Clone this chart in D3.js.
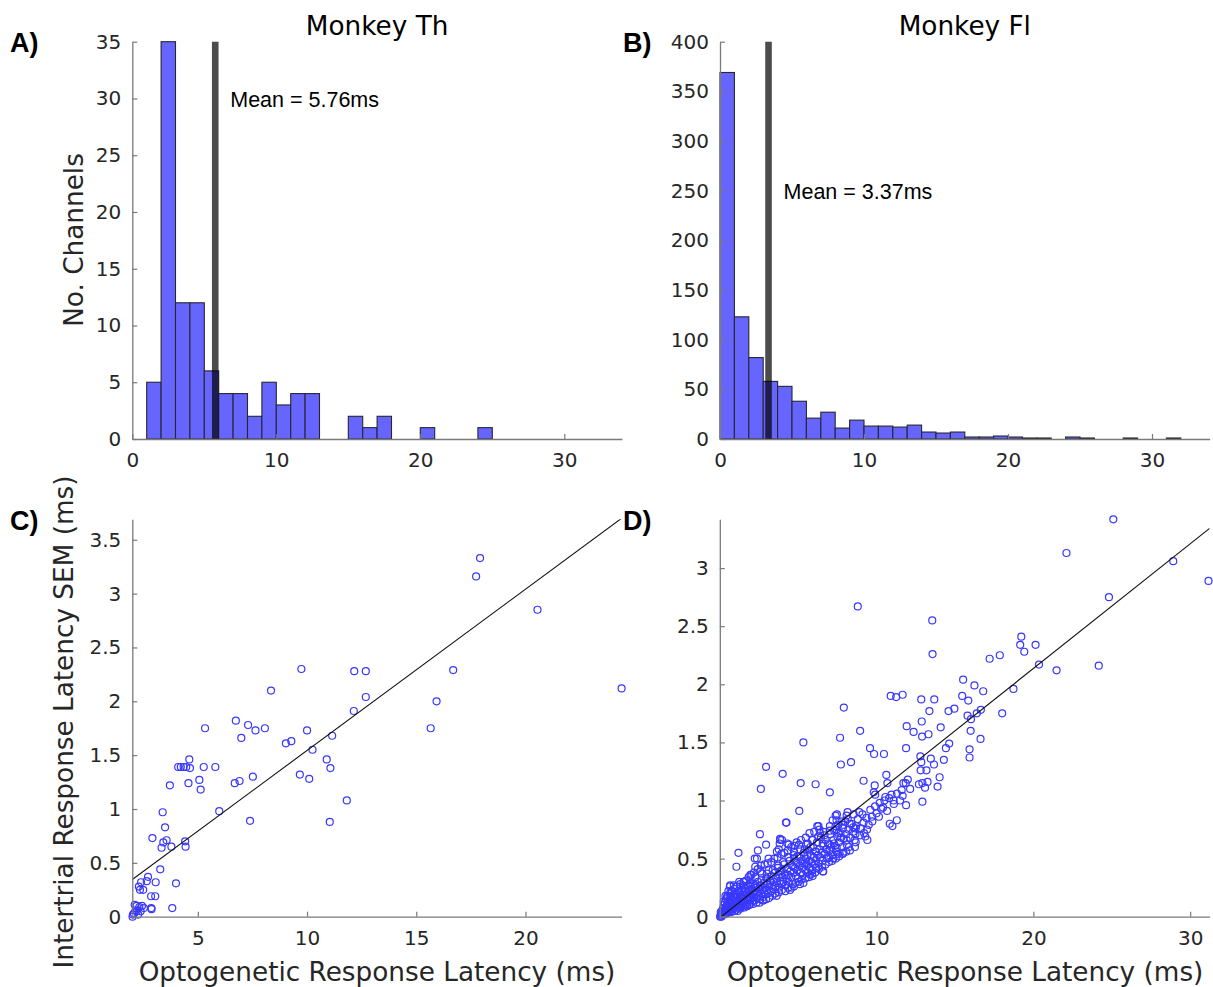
<!DOCTYPE html>
<html><head><meta charset="utf-8">
<script src="https://cdn.jsdelivr.net/npm/d3@7"></script>
<style>body{margin:0;background:#fff} svg{display:block}</style>
</head><body><svg id="c" width="1213" height="987"></svg>
<script>
// ---------- DATA ----------
const titleA = "Monkey Th";
const titleB = "Monkey Fl";
const meanA = 5.76;
const meanB = 3.37;
const binStartA = 1;            // first bin left edge (bin width 1 ms)
const countsA = [5,35,12,12,6,4,4,2,5,3,4,4,0,0,2,1,2,0,0,1,0,0,0,1];
const binStartB = 0;
const countsB = [369,123,82,58,53,38,21,27,11,19,13,13,12,14,7,6,7,2,2,3,2,1,1,0,2,1,0,0,1,0,0,1];
const histXTicks = [0,10,20,30];
const yTicksA = [0,5,10,15,20,25,30,35];
const yTicksB = [0,50,100,150,200,250,300,350,400];
const xTicksC = [5,10,15,20];
const yTicksC = [0,0.5,1,1.5,2,2.5,3,3.5];
const xTicksD = [0,10,20,30];
const yTicksD = [0,0.5,1,1.5,2,2.5,3];
const fitC = {intercept: 0.0466, slope: 0.1497};
const fitD = {intercept: -0.01, slope: 0.1073};

// Panel C: [latency (ms), SEM (ms)]
const scatterC = [[17.92,3.33],[17.74,3.16],[20.55,2.85],[16.69,2.29],[24.40,2.12],[15.93,2.00],[15.66,1.75],[9.74,2.30],[12.16,2.28],[12.69,2.28],[12.69,2.04],[12.14,1.91],[8.35,2.10],[6.74,1.82],[7.30,1.78],[7.64,1.73],[8.07,1.75],[6.99,1.66],[5.33,1.75],[10.00,1.73],[11.15,1.68],[9.03,1.61],[9.28,1.63],[10.25,1.55],[10.90,1.46],[11.07,1.38],[9.67,1.32],[10.10,1.28],[11.82,1.08],[11.04,0.88],[7.39,0.89],[7.52,1.30],[6.91,1.26],[6.69,1.24],[5.98,0.98],[5.80,1.39],[5.27,1.39],[5.07,1.27],[5.13,1.18],[4.61,1.46],[4.10,1.39],[4.22,1.39],[4.35,1.39],[4.47,1.39],[4.64,1.38],[4.57,1.24],[3.72,1.22],[3.39,0.97],[3.50,0.83],[2.92,0.73],[3.42,0.69],[3.57,0.71],[3.34,0.64],[3.79,0.65],[4.42,0.70],[4.44,0.65],[3.28,0.44],[4.00,0.31],[3.83,0.08],[2.72,0.37],[2.66,0.33],[3.07,0.32],[2.40,0.32],[2.30,0.28],[2.35,0.25],[2.50,0.25],[2.86,0.19],[3.05,0.19],[2.87,0.08],[2.88,0.07],[2.01,0.0],[2.08,0.03],[2.11,0.11],[2.20,0.10],[2.32,0.09],[2.44,0.10],[2.38,0.05],[2.20,0.05],[2.53,0.08],[2.15,0.06],[2.03,0.02],[2.27,0.02]];

// Panel D: [latency (ms), SEM (ms)]
const scatterD = [[25.10,3.42],[22.11,3.13],[28.92,3.06],[31.17,2.89],[24.82,2.75],[8.80,2.67],[13.55,2.55],[13.57,2.26],[19.23,2.41],[19.16,2.34],[19.42,2.28],[20.14,2.34],[17.21,2.22],[17.86,2.25],[20.36,2.17],[21.48,2.12],[24.17,2.16],[18.73,1.96],[18.01,1.75],[15.52,2.04],[16.24,1.99],[16.80,1.94],[15.46,1.90],[15.85,1.86],[16.65,1.78],[16.39,1.75],[15.80,1.73],[16.02,1.70],[16.00,1.60],[16.63,1.53],[15.93,1.44],[15.93,1.37],[14.96,1.79],[14.59,1.77],[14.09,1.63],[14.63,1.49],[14.42,1.45],[14.29,1.35],[14.02,1.20],[13.89,1.12],[13.68,1.87],[13.37,1.77],[13.31,1.57],[12.85,1.87],[12.88,1.68],[12.90,1.55],[12.36,1.59],[11.92,1.64],[11.88,1.45],[10.90,1.90],[11.25,1.89],[11.66,1.91],[7.91,1.80],[8.95,1.60],[7.67,1.54],[9.58,1.45],[9.84,1.40],[10.47,1.40],[8.37,1.33],[7.72,1.31],[5.33,1.50],[2.95,1.29],[2.62,1.10],[4.01,1.23],[5.16,1.15],[6.11,1.14],[7.02,1.07],[9.17,1.17],[9.88,1.13],[10.62,1.22],[10.69,1.15],[12.79,1.38],[13.46,1.36],[13.66,1.31],[12.85,1.33],[13.18,1.26],[12.81,1.26],[13.25,1.16],[12.92,1.15],[12.70,1.14],[13.09,1.11],[12.92,0.99],[11.99,1.18],[11.71,1.15],[11.86,1.15],[12.14,1.10],[11.60,1.09],[11.66,1.04],[11.88,0.96],[10.95,1.05],[11.08,1.00],[10.56,1.03],[10.41,0.94],[10.67,0.91],[9.82,1.07],[9.91,1.05],[10.15,0.86],[10.84,0.80],[11.01,0.78],[11.29,0.83],[9.73,0.82],[9.39,0.75],[9.28,0.69],[9.41,0.66],[9.17,0.81],[8.67,0.76],[8.95,0.70],[8.28,0.80],[8.15,0.90],[7.39,0.87],[7.47,0.88],[7.20,0.83],[7.02,0.78],[7.87,0.79],[8.65,0.71],[8.67,0.64],[8.30,0.57],[7.57,0.72],[7.74,0.68],[7.28,0.63],[7.46,0.59],[7.54,0.54],[6.94,0.51],[7.00,0.62],[6.68,0.70],[6.35,0.75],[6.29,0.78],[6.57,0.63],[6.13,0.56],[6.57,0.39],[5.92,0.66],[5.79,0.60],[5.42,0.58],[5.05,0.62],[5.07,0.91],[4.25,0.81],[5.61,0.63],[5.59,0.53],[5.27,0.46],[4.94,0.52],[4.73,0.56],[4.40,0.62],[3.97,0.66],[3.82,0.63],[3.64,0.56],[3.86,0.66],[2.95,0.62],[2.56,0.71],[2.43,0.57],[2.23,0.50],[1.19,0.55],[1.06,0.43],[5.92,0.35],[5.33,0.29],[4.73,0.26],[6.13,0.42],
[3.84,0.67],[4.31,0.63],[4.90,0.64],[4.22,0.81],[6.22,0.78],[6.39,0.72],[7.45,0.83],[8.09,0.87],[7.45,0.75],[6.81,0.58],[6.60,0.39],[5.54,0.46],[4.69,0.43],[3.84,0.39],[2.99,0.33],[1.93,0.29],[1.08,0.26],[0.66,0.27],[0.45,0.17],[8.09,0.66],[8.62,0.60],[7.88,0.55],[8.51,0.77],[7.24,0.50],[5.75,0.36],[5.11,0.28],[4.48,0.23],[3.63,0.18],[2.78,0.14],[1.93,0.11],[1.29,0.08],[0.66,0.05],
[3.76,0.58],[3.11,0.50],[2.37,0.50],[2.26,0.43],[2.58,0.39],[1.95,0.36],[1.52,0.30],[0.89,0.27],[0.64,0.26],[0.36,0.18],[0.25,0.13],[0.06,0.04],
[0.02,0.0],[0.05,0.01],[0.08,0.02],[0.1,0.0],[0.12,0.03],[0.15,0.05],[0.18,0.02],[0.2,0.07],[0.22,0.04],[0.25,0.1],[0.28,0.03],[0.3,0.06],[0.32,0.12],[0.35,0.05],[0.38,0.08],[0.4,0.15],[0.42,0.03],[0.45,0.1],[0.48,0.06],[0.5,0.13],[0.52,0.18],[0.55,0.08],[0.58,0.11],[0.6,0.04],[0.62,0.15],[0.65,0.2],[0.68,0.07],[0.7,0.12],[0.72,0.17],[0.75,0.09],[0.78,0.22],[0.8,0.05],[0.82,0.14],[0.85,0.1],[0.88,0.19],[0.9,0.07],[0.92,0.24],[0.95,0.12],[0.98,0.16],[1.0,0.09],[1.02,0.2],[1.05,0.06],[1.08,0.13],[1.1,0.26],[1.12,0.1],[1.15,0.17],[1.18,0.22],[1.2,0.08],[1.22,0.14],[1.25,0.11],[1.28,0.19],[1.3,0.28],[1.32,0.13],[1.35,0.09],[1.38,0.16],[1.4,0.23],[1.42,0.12],[1.45,0.18],[1.48,0.1],[1.5,0.15],[1.52,0.21],[1.55,0.3],[1.58,0.13],
[1.6,0.18],[1.63,0.1],[1.66,0.24],[1.7,0.15],[1.73,0.2],[1.76,0.12],[1.8,0.27],[1.83,0.17],[1.86,0.22],[1.9,0.14],[1.93,0.19],[1.96,0.32],[2.0,0.16],[2.03,0.24],[2.06,0.13],[2.1,0.2],[2.13,0.28],[2.16,0.17],[2.2,0.22],[2.23,0.14],[2.26,0.34],[2.3,0.19],[2.33,0.25],[2.36,0.16],[2.4,0.21],[2.44,0.3],[2.48,0.18],[2.52,0.24],[2.56,0.15],[2.6,0.27],[2.64,0.2],[2.68,0.37],[2.72,0.23],[2.76,0.17],[2.8,0.29],[2.84,0.21],[2.88,0.25],[2.92,0.19],[2.96,0.33],[3.0,0.23],[3.04,0.28],[3.08,0.2],[3.12,0.4],[3.16,0.26],[3.2,0.31],[3.25,0.22],[3.3,0.35],[3.35,0.27],[3.4,0.24],[3.45,0.3],[3.5,0.38],
[3.55,0.26],[3.6,0.33],[3.65,0.29],[3.7,0.42],[3.75,0.25],[3.8,0.36],[3.85,0.31],[3.9,0.28],[3.95,0.4],[4.0,0.34],[4.05,0.3],[4.1,0.45],[4.15,0.37],[4.2,0.27],[4.25,0.33],[4.3,0.41],[4.35,0.36],[4.4,0.3],[4.45,0.48],[4.5,0.39],[4.55,0.34],[4.6,0.44],[4.65,0.28],[4.7,0.38],[4.75,0.5],[4.8,0.42],[4.85,0.35],[4.9,0.46],[4.95,0.4],[5.0,0.33],[5.05,0.52],[5.1,0.44],[5.15,0.38],[5.2,0.48],[5.25,0.42],[5.3,0.36],[5.35,0.55],[5.4,0.46],[5.45,0.4],[5.5,0.5],[5.55,0.44],[5.6,0.38],[5.65,0.57],[5.7,0.48],[5.75,0.42],[5.8,0.53],[5.85,0.47],[5.9,0.4],[5.95,0.6],
[6.0,0.51],[6.05,0.45],[6.1,0.56],[6.15,0.49],[6.2,0.64],[6.25,0.53],[6.3,0.46],[6.35,0.58],[6.4,0.51],[6.45,0.68],[6.5,0.55],[6.55,0.48],[6.6,0.61],[6.7,0.54],[6.75,0.66],[6.8,0.58],[6.85,0.5],[6.9,0.63],[7.0,0.57],[7.05,0.71],[7.1,0.6],[7.2,0.53],[7.25,0.66],[7.3,0.74],[7.35,0.61],[7.45,0.56],[7.5,0.69],[7.55,0.79],[7.6,0.64],[7.7,0.72],[7.8,0.6],[7.85,0.76],[7.9,0.67],[8.0,0.82],[8.05,0.71],[8.1,0.62],[8.2,0.75],[8.3,0.68],[8.4,0.8],[8.5,0.73],[8.6,0.66],[8.7,0.78],[8.8,0.84],[9.0,0.76],[9.1,0.88],[9.2,0.72],[9.35,0.85],[9.5,0.79],[9.6,0.92],[9.7,0.86],[9.9,0.95],[10.0,0.89],[10.2,0.98],[10.3,0.93],[10.5,1.0],[10.8,1.02],[11.1,0.97],[11.3,1.06],[11.5,1.0],
[0.28,0.02],[0.46,0.03],[0.74,0.04],[0.94,0.05],[1.14,0.05],[1.33,0.07],[1.57,0.08],[1.74,0.09],[1.88,0.1],[2.12,0.11],[2.34,0.12],[2.53,0.12],[2.74,0.14],[2.95,0.15],[3.14,0.16],[3.36,0.18],[3.53,0.2],[3.78,0.21],[3.96,0.23],[4.18,0.22],[4.36,0.25],[4.58,0.25],[4.82,0.29],[5.02,0.3],[5.22,0.32],[5.46,0.33],[5.68,0.34],[5.88,0.37],[6.08,0.38],[6.32,0.41],[6.52,0.43],[6.74,0.45],[6.96,0.47],[7.16,0.48],[7.4,0.5],[7.62,0.52],[7.84,0.54],[8.06,0.56],[8.24,0.6],
[1.24,0.3],[1.46,0.27],[1.68,0.31],[1.84,0.34],[2.02,0.36],[2.18,0.38],[2.42,0.41],[2.62,0.44],[2.86,0.45],[3.06,0.46],[3.28,0.47],[3.48,0.5],[3.68,0.51],[3.92,0.54],[4.12,0.55],[4.34,0.57],[4.56,0.6],[4.78,0.61],[5.18,0.66],[5.48,0.68],[5.72,0.72],[6.02,0.73],
[0.55,0.22],[0.75,0.14],[1.0,0.16],[1.26,0.21],[1.62,0.22],[1.98,0.26],[2.28,0.27],[2.66,0.32],[3.02,0.37],[3.38,0.4],[3.72,0.44],[4.04,0.47],[4.38,0.51],[4.72,0.53],[5.12,0.58],[5.52,0.62],[5.9,0.66],[6.28,0.69],[6.62,0.73],[7.02,0.74],[7.38,0.78],[7.76,0.82],[8.16,0.84],[8.54,0.88],[8.9,0.9]];

// ---------- DRAWING ----------
const svg = d3.select("#c");
const TICK_FONT = "DejaVu Sans";
const BAR_FILL = "#6666ff";
const MARK = "#3838ff";

function axes(g, x, y, xt, yt) {
  const fmt = d3.format("~g");
  const xa = g.append("g").attr("transform", `translate(0,${y.range()[0]})`)
    .call(d3.axisBottom(x).tickValues(xt).tickFormat(fmt).tickSizeInner(-5).tickSizeOuter(0).tickPadding(14));
  const ya = g.append("g").attr("transform", `translate(${x.range()[0]},0)`)
    .call(d3.axisLeft(y).tickValues(yt).tickFormat(fmt).tickSizeInner(-5).tickSizeOuter(0).tickPadding(11));
  [xa, ya].forEach(a => {
    a.select(".domain").attr("stroke", "#7a7a7a").attr("stroke-width", 1.3);
    a.selectAll(".tick line").attr("stroke", "#7a7a7a").attr("stroke-width", 1.2);
    a.selectAll(".tick text").attr("fill", "#262626").attr("font-family", TICK_FONT).attr("font-size", 20);
  });
}

function hist(x, y, binStart, counts, mean, xt, yt, title) {
  const g = svg.append("g");
  const bins = counts.map((c, i) => ({x0: binStart + i, x1: binStart + i + 1, c})).filter(d => d.c > 0);
  g.selectAll("rect.bar").data(bins).join("rect").attr("class", "bar")
    .attr("x", d => x(d.x0)).attr("width", d => x(d.x1) - x(d.x0))
    .attr("y", d => y(d.c)).attr("height", d => y(0) - y(d.c))
    .attr("fill", BAR_FILL).attr("stroke", "#262633").attr("stroke-width", 1.1);
  g.append("line").attr("x1", x(mean)).attr("x2", x(mean))
    .attr("y1", y(y.domain()[1])).attr("y2", y(0))
    .attr("stroke", "#000").attr("stroke-opacity", 0.7).attr("stroke-width", 6.6);
  axes(g, x, y, xt, yt);
  const xm = (x.range()[0] + x.range()[1]) / 2;
  g.append("text").attr("x", xm).attr("y", 35).attr("text-anchor", "middle")
    .attr("font-family", TICK_FONT).attr("font-size", 26.3).attr("fill", "#000").text(title);
  return g;
}

// Panel A
const xA = d3.scaleLinear([0, 34], [132.3, 621.9]);
const yA = d3.scaleLinear([0, 35], [439, 41.7]);
const gA = hist(xA, yA, binStartA, countsA, meanA, histXTicks, yTicksA, titleA);
gA.append("text").attr("x", xA(meanA) + 15).attr("y", 106.5)
  .attr("font-family", "Liberation Sans, Arial").attr("font-size", 21.5).attr("fill", "#000")
  .text(`Mean = ${meanA.toFixed(2)}ms`);

// Panel B
const xB = d3.scaleLinear([0, 34], [720, 1209.6]);
const yB = d3.scaleLinear([0, 400], [439, 41.7]);
const gB = hist(xB, yB, binStartB, countsB, meanB, histXTicks, yTicksB, titleB);
gB.append("text").attr("x", xB(meanB) + 15).attr("y", 199)
  .attr("font-family", "Liberation Sans, Arial").attr("font-size", 21.5).attr("fill", "#000")
  .text(`Mean = ${meanB.toFixed(2)}ms`);

// scatter panels
function scatter(x, y, pts, fit, xt, yt) {
  const g = svg.append("g");
  const id = "clip" + Math.round(x.range()[0]);
  svg.append("clipPath").attr("id", id).append("rect")
    .attr("x", x.range()[0]).attr("y", y.range()[1])
    .attr("width", x.range()[1] - x.range()[0]).attr("height", y.range()[0] - y.range()[1]);
  g.selectAll("circle").data(pts).join("circle")
    .attr("cx", d => x(d[0])).attr("cy", d => y(d[1])).attr("r", 3.5)
    .attr("fill", "none").attr("stroke", MARK).attr("stroke-width", 1.2);
  const [x0, x1] = x.domain();
  g.append("line").attr("clip-path", `url(#${id})`)
    .attr("x1", x(x0)).attr("y1", y(fit.intercept + fit.slope * x0))
    .attr("x2", x(x1)).attr("y2", y(fit.intercept + fit.slope * x1))
    .attr("stroke", "#111").attr("stroke-width", 1.1);
  axes(g, x, y, xt, yt);
  return g;
}
const xC = d3.scaleLinear([2.0, 24.4], [132.3, 621.6]);
const yC = d3.scaleLinear([0, 3.69], [916.7, 519.3]);
scatter(xC, yC, scatterC, fitC, xTicksC, yTicksC);
const xD = d3.scaleLinear([0, 31.24], [719.8, 1209.6]);
const yD = d3.scaleLinear([0, 3.42], [916.7, 519.3]);
scatter(xD, yD, scatterD, fitD, xTicksD, yTicksD);

// axis labels
function lbl(x, y, txt, rot) {
  svg.append("text").attr("transform", `translate(${x},${y})` + (rot ? " rotate(-90)" : ""))
    .attr("text-anchor", "middle").attr("font-family", TICK_FONT).attr("font-size", 26.3)
    .attr("fill", "#262626").text(txt);
}
lbl(83, 240, "No. Channels", true);
lbl(73, 722, "Intertrial Response Latency SEM (ms)", true);
lbl(377, 981, "Optogenetic Response Latency (ms)", false);
lbl(965, 981, "Optogenetic Response Latency (ms)", false);

// panel letters
[["A)", 10, 52], ["B)", 623, 52], ["C)", 10, 530], ["D)", 623, 530]].forEach(([t, x, y]) => {
  svg.append("text").attr("x", x).attr("y", y).attr("font-family", "Liberation Sans, Arial")
    .attr("font-weight", "bold").attr("font-size", 27).attr("fill", "#000").text(t);
});
</script></body></html>
